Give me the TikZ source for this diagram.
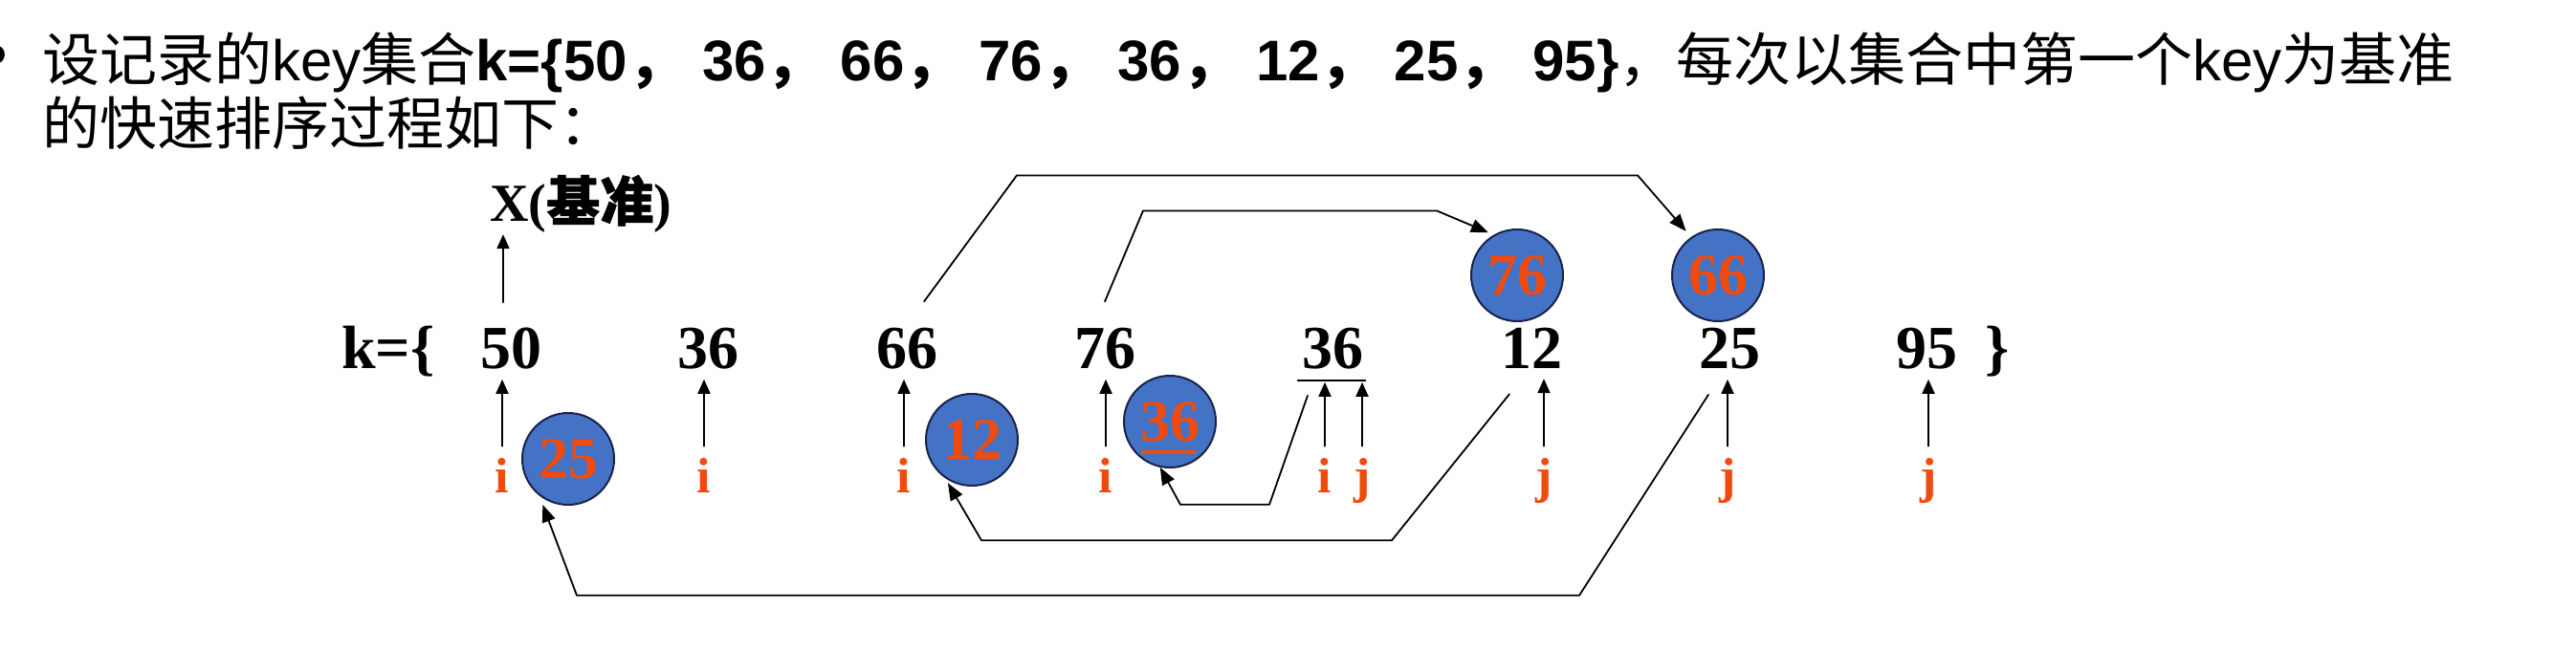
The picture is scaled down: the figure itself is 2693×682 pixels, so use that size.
\documentclass[tikz,border=0pt]{standalone}
\usepackage{fontspec}
\setmainfont{Liberation Sans}
\newfontfamily\cjk{Noto Sans CJK SC}
\newfontfamily\cjkbold[FakeBold=1]{Noto Sans CJK SC}
\newfontfamily\serifb{Liberation Serif}
\usetikzlibrary{arrows.meta, calc}

\definecolor{ballBlue}{RGB}{68,114,196}
\definecolor{ballRim}{RGB}{25,35,75}
\definecolor{ptrOrange}{RGB}{240,75,15}

% full-width comma of the key list, with the gap that follows it
\newcommand{\kcomma}{{\cjk ，}\hspace{18pt}}

\begin{document}
\begin{tikzpicture}[x=1pt, y=-1pt, line cap=round, line join=round,
  keynum/.style={anchor=base, inner sep=0pt, font=\serifb\bfseries\fontsize{64}{64}\selectfont},
  ptr/.style={anchor=base, inner sep=0pt, text=ptrOrange, font=\serifb\bfseries\fontsize{52}{52}\selectfont},
  ball/.style={circle, draw=ballRim, line width=2pt, fill=ballBlue, minimum size=96pt,
    inner sep=0pt, text=ptrOrange, font=\serifb\bfseries\fontsize{62}{62}\selectfont},
  uparr/.style={line width=1.8pt, -{Triangle[length=15pt,width=13pt]}},
  movearr/.style={line width=1.8pt, -{Triangle[length=18pt,width=14pt]}}]

  \useasboundingbox (0,0) rectangle (2693,682);

  % Heading text (bullet cut at the left edge)
  \fill (-5,57) circle[radius=10pt];
  \node[anchor=base west, inner sep=0pt, font=\fontsize{60}{67}\selectfont] (line1) at (44,85)
    {{\cjk 设记录的}key{\cjk 集合}\textbf{k=\{50\kcomma 36\kcomma 66\kcomma 76\kcomma 36\kcomma 12\kcomma 25\kcomma 95\}}{\cjk ，每次以集合中第一个}key{\cjk 为基准}};
  \node[anchor=base west, inner sep=0pt, font=\fontsize{60}{67}\selectfont] (line2)
    at ($(line1.base west)+(0,67)$) {\cjk 的快速排序过程如下：};

  % Key row
  \node[keynum] (kopen) at (406,385) {k=\{};
  \node[keynum] (kclose) at (2088,385) {\}};
  \foreach \x/\v/\n in {534/50/k1, 740/36/k2, 948/66/k3, 1155/76/k4,
                        1393/36/k5, 1601/12/k6, 1808/25/k7, 2014/95/k8}
    \node[keynum] (\n) at (\x,385) {\v};

  % Pivot label
  \node[anchor=base west, inner sep=0pt, font=\serifb\bfseries\fontsize{56}{56}\selectfont]
    (xtag) at (512,231) {X({\cjkbold 基准})};
  \draw[uparr] ($(k1.north)+(-8,-26)$) -- ($(xtag.south west)+(14,2)$);

  % Pointers i and j
  \foreach \x/\t/\n in {525/i/p1, 736/i/p2, 945/i/p3, 1156/i/p4, 1385/i/p5,
                        1424/j/p6, 1614/j/p7, 1806/j/p8, 2016/j/p9}
    \node[ptr] (\n) at (\x,515) {\t};
  \foreach \p/\k in {p1/k1, p2/k2, p3/k3, p4/k4, p7/k6, p8/k7, p9/k8}
    \draw[uparr] ($(\p.north)+(0,-12)$) -- ($(\p.north |- \k.south)+(0,11)$);

  % i and j meet under the second 36
  \coordinate (barL) at ($(k5.south west)+(-4,12)$);
  \coordinate (barR) at ($(k5.south east)+(2,12)$);
  \draw[line width=2.5pt] (barL) -- (barR);
  \draw[uparr] ($(p5.north)+(0,-12)$) -- ($(p5.north |- barL)+(0,2)$);
  \draw[uparr] ($(p6.north)+(0,-12)$) -- ($(p6.north |- barL)+(0,2)$);

  % Moved keys
  \node[ball] (b76) at (1586,288) {76};
  \node[ball] (b66) at (1796,288) {66};
  \node[ball] (b25) at (594,480) {25};
  \node[ball] (b12) at (1016,460) {12};
  \node[ball] (b36) at (1223,441) {36};
  \draw[ptrOrange, line width=4pt, line cap=butt] ($(b36.center)+(-30,32)$) -- ($(b36.center)+(27,32)$);

  % Exchanges, high side
  \draw[movearr, shorten >=8pt] ($(k3.north)+(18,-27)$) -- ++(97,-132) -- ++(649,0) -- (b66.125);
  \draw[movearr, shorten >=6pt] ($(k4.north)+(0,-27)$) -- ++(40,-95) -- ++(307,0) -- (b76.120);

  % Exchanges, low side
  \draw[movearr] ($(k5.south)+(-26,28)$) -- ++(-40,114) -- ++(-93,0) -- (b36.258);
  \draw[movearr, shorten >=6pt] ($(k6.south)+(-23,27)$) -- ++(-123,153) -- ++(-429,0) -- (b12.235);
  \draw[movearr, shorten >=10pt] ($(k7.south)+(-22,27)$) -- ++(-135,210) -- ++(-1048,0) -- (b25.232);

\end{tikzpicture}
\end{document}
